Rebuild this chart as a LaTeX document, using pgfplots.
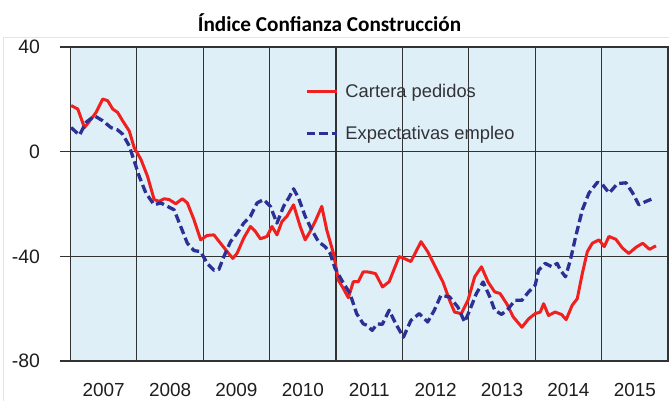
\documentclass[border=0pt]{standalone}
\usepackage{fontspec}
\setmainfont{Liberation Sans}
\newfontfamily\titlefont{Carlito}
\usepackage{pgfplots}
\pgfplotsset{compat=1.18}
\definecolor{bgblue}{RGB}{222,239,247}
\definecolor{redline}{RGB}{240,32,30}
\definecolor{blueline}{RGB}{44,48,148}
\definecolor{gridc}{RGB}{50,50,50}
\definecolor{txt}{RGB}{30,30,30}
\definecolor{legtxt}{RGB}{50,50,55}

\pgfplotstableread{
x y
2007.01 17.6
2007.11 16.3
2007.21 9.2
2007.31 12.4
2007.385 15.0
2007.485 20.1
2007.56 19.5
2007.635 16.3
2007.71 15.0
2007.785 11.8
2007.885 7.9
2007.96 1.5
2008.06 -2.9
2008.16 -9.4
2008.26 -18.3
2008.335 -19.0
2008.41 -18.0
2008.485 -18.3
2008.585 -19.9
2008.685 -18.0
2008.76 -19.6
2008.86 -26.0
2008.96 -33.7
2009.06 -32.0
2009.16 -31.8
2009.26 -35.0
2009.36 -38.2
2009.445 -40.8
2009.51 -38.8
2009.61 -33.0
2009.71 -28.6
2009.785 -30.5
2009.86 -33.3
2009.96 -32.4
2010.035 -28.6
2010.11 -31.8
2010.185 -26.7
2010.26 -24.7
2010.36 -20.3
2010.46 -28.6
2010.535 -33.7
2010.61 -30.5
2010.685 -26.7
2010.785 -20.9
2010.86 -29.9
2010.96 -38.8
2011.035 -49.1
2011.11 -52.3
2011.185 -55.8
2011.26 -49.7
2011.335 -49.7
2011.41 -45.9
2011.49 -46.0
2011.595 -46.6
2011.70 -51.7
2011.80 -49.7
2011.95 -40.1
2012.025 -40.8
2012.127 -42.0
2012.28 -34.4
2012.38 -38.2
2012.48 -43.3
2012.61 -49.8
2012.71 -56.8
2012.785 -61.3
2012.886 -61.9
2012.987 -56.8
2013.089 -47.8
2013.19 -44.0
2013.29 -49.8
2013.39 -53.6
2013.47 -54.2
2013.57 -58.1
2013.67 -63.2
2013.80 -67.1
2013.90 -63.9
2014.00 -61.9
2014.076 -61.3
2014.127 -58.1
2014.20 -62.6
2014.30 -61.3
2014.395 -62.2
2014.466 -64.2
2014.557 -58.7
2014.633 -56.2
2014.71 -46.5
2014.785 -38.2
2014.86 -35.0
2014.96 -33.7
2015.04 -36.3
2015.11 -32.4
2015.215 -33.5
2015.316 -36.9
2015.41 -38.9
2015.52 -36.5
2015.62 -35.0
2015.72 -37.3
2015.82 -36.0
}\cartera

\pgfplotstableread{
x y
2007.01 9.2
2007.135 6.3
2007.235 11.2
2007.36 13.7
2007.485 11.8
2007.61 9.2
2007.71 8.3
2007.785 6.7
2007.885 2.2
2007.96 -3.6
2008.035 -9.4
2008.135 -15.8
2008.26 -20.3
2008.36 -19.6
2008.46 -20.9
2008.56 -22.2
2008.66 -28.6
2008.76 -35.0
2008.86 -37.8
2008.96 -38.2
2009.06 -42.7
2009.16 -45.3
2009.235 -45.0
2009.31 -40.1
2009.41 -34.4
2009.51 -31.2
2009.61 -27.3
2009.71 -24.7
2009.81 -19.6
2009.91 -18.3
2010.01 -20.9
2010.11 -27.3
2010.21 -20.9
2010.30 -17.1
2010.36 -14.2
2010.435 -17.7
2010.535 -24.7
2010.635 -29.9
2010.735 -34.4
2010.835 -36.3
2010.91 -38.8
2010.985 -44.6
2011.085 -49.1
2011.21 -54.2
2011.31 -61.9
2011.41 -65.8
2011.47 -66.4
2011.544 -68.3
2011.62 -65.8
2011.696 -66.0
2011.80 -60.6
2011.90 -65.8
2012.015 -70.9
2012.127 -64.5
2012.253 -61.9
2012.38 -65.1
2012.48 -60.6
2012.58 -54.9
2012.71 -55.5
2012.835 -59.4
2012.937 -65.1
2013.013 -60.6
2013.114 -54.2
2013.215 -49.8
2013.316 -55.5
2013.39 -60.6
2013.494 -62.2
2013.595 -60.0
2013.696 -56.8
2013.80 -56.8
2013.90 -53.6
2014.00 -51.0
2014.05 -45.3
2014.15 -42.7
2014.253 -44.0
2014.33 -42.7
2014.38 -45.3
2014.456 -47.8
2014.53 -41.4
2014.61 -32.4
2014.71 -22.2
2014.81 -15.8
2014.937 -11.7
2015.013 -12.6
2015.114 -15.8
2015.24 -12.2
2015.367 -11.9
2015.468 -15.8
2015.56 -20.3
2015.67 -19.0
2015.797 -17.7
}\empleo

\begin{document}
\begin{tikzpicture}
\useasboundingbox (-70.5bp,-40bp) rectangle (598.5bp,361bp);
\draw[black!10, line width=0.8bp] (-67.5bp,324bp) -- (598.5bp,324bp);
\draw[black!10, line width=0.8bp] (-67.5bp,324bp) -- (-67.5bp,-40bp);
\node[anchor=base, font=\titlefont\bfseries\fontsize{21.3}{25}\selectfont, text=black] at (259bp,329.3bp) {Índice Confianza Construcción};
\begin{axis}[
  at={(0,0)}, anchor=south west,
  scale only axis, width=597.5bp, height=314bp,
  xmin=2007, xmax=2016, ymin=-80, ymax=40,
  axis background/.style={fill=bgblue},
  axis line style={gridc, line width=1.2bp},
  xtick={2008,2009,2010,2011,2012,2013,2014,2015}, xticklabels={},
  xmajorgrids, ymajorgrids,
  grid style={gridc, line width=1.2bp},
  ytick={-80,-40,0,40}, yticklabels={-80,-40,0,40},
  tick align=outside, major tick length=11bp,
  ytick style={gridc, line width=1.2bp},
  xtick style={draw=none},
  y tick label style={font=\fontsize{19.5}{22}\selectfont, text=txt, xshift=-16bp},
  extra x ticks={2007.5,2008.5,2009.5,2010.5,2011.5,2012.5,2013.5,2014.5,2015.5},
  extra x tick labels={2007,2008,2009,2010,2011,2012,2013,2014,2015},
  extra x tick style={grid=none, tick style={draw=none},
     tick label style={font=\fontsize{19}{21}\selectfont, text=txt, inner sep=1bp, yshift=-10.5bp}},
  legend style={draw=none, fill=none, at={(axis cs:2010.532,26.5)}, anchor=north west,
     font=\fontsize{18.4}{21}\selectfont, text=legtxt, row sep=22.5bp, column sep=5bp, inner sep=0pt},
  legend cell align=left,
  legend image code/.code={\draw[#1] (0bp,0bp) -- (30bp,0bp);},
]
\addplot[redline, line width=3bp, line join=round] table {\cartera};
\addlegendentry{Cartera pedidos}
\addplot[blueline, line width=3.3bp, dash pattern=on 8.5bp off 4bp, line join=round] table {\empleo};
\addlegendentry{Expectativas empleo}
\end{axis}
\end{tikzpicture}
\end{document}
